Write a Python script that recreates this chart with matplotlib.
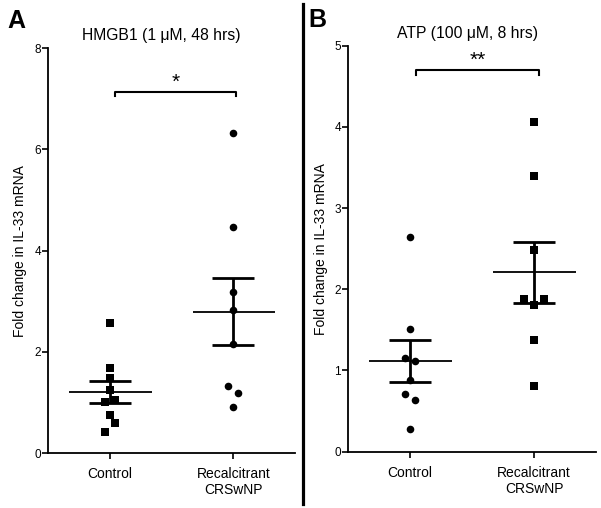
import numpy as np
import matplotlib
matplotlib.use("Agg")
import matplotlib.pyplot as plt
from matplotlib.lines import Line2D

plt.rcParams['font.family'] = ['Liberation Sans', 'DejaVu Sans']

# данные
groups = ["Control", "Recalcitrant\nCRSwNP"]

hmgb1_control = [2.57, 1.69, 1.48, 1.25, 1.05, 1.01, 0.75, 0.60, 0.42]
hmgb1_recalc = [6.32, 4.46, 3.18, 2.82, 2.16, 1.32, 1.18, 0.92]
atp_control = [2.64, 1.51, 1.15, 1.12, 0.88, 0.71, 0.64, 0.28]
atp_recalc = [4.06, 3.39, 2.48, 1.88, 1.88, 1.81, 1.37, 0.81]

# смещения точек по x (разброс), чтобы не перекрывались
hmgb1_control_dx = [0, 0, 0, 0, 0.04, -0.04, 0, 0.04, -0.04]
hmgb1_recalc_dx = [0, 0, 0, 0, 0, -0.04, 0.04, 0]
atp_control_dx = [0, 0, -0.04, 0.04, 0, -0.04, 0.04, 0]
atp_recalc_dx = [0, 0, 0, -0.08, 0.08, 0, 0, 0]


def draw_group(ax, x, values, dx, marker):
    values = np.array(values)
    ax.scatter(x + np.array(dx), values, marker=marker, s=30, color='black',
               zorder=3, linewidths=0)
    m = values.mean()
    sem = values.std(ddof=1) / np.sqrt(len(values))
    ax.hlines(m, x - 0.33, x + 0.34, color='black', lw=1.3, zorder=2)
    ax.vlines(x, m - sem, m + sem, color='black', lw=2.0, zorder=2)
    ax.hlines([m - sem, m + sem], x - 0.17, x + 0.17, color='black', lw=2.0, zorder=2)


def setup(ax, ymax, yticks, title, title_x):
    ax.set_xlim(-0.5, 1.5)
    ax.set_ylim(0, ymax)
    ax.set_xticks([0, 1])
    ax.set_xticklabels(groups, fontsize=10)
    ax.set_yticks(yticks)
    ax.tick_params(axis='y', labelsize=8.5, length=4, width=1.2, pad=1)
    ax.tick_params(axis='x', length=4, width=1.2, pad=6)
    ax.spines['top'].set_visible(False)
    ax.spines['right'].set_visible(False)
    ax.spines['left'].set_linewidth(1.3)
    ax.spines['bottom'].set_linewidth(1.3)
    ax.set_ylabel('Fold change in IL-33 mRNA', fontsize=10)
    ax.text(title_x, 1.012, title, transform=ax.transAxes, ha='center',
            va='bottom', fontsize=11.3)


def bracket(ax, x0, x1, y, dy, label):
    ax.plot([x0, x0, x1, x1], [y - dy, y, y, y - dy], color='black', lw=1.5)
    ax.text((x0 + x1) / 2, y, label, ha='center', va='bottom', fontsize=15)


fig = plt.figure(figsize=(6.01, 5.08), dpi=100)

axA = fig.add_axes([0.0799, 0.108, 0.411, 0.7975])
draw_group(axA, 0, hmgb1_control, hmgb1_control_dx, 's')
draw_group(axA, 1, hmgb1_recalc, hmgb1_recalc_dx, 'o')
setup(axA, 8, [0, 2, 4, 6, 8], 'HMGB1 (1 μM, 48 hrs)', 0.46)
bracket(axA, 0.04, 1.02, 7.14, 0.09, '*')
axA.yaxis.set_label_coords(-0.085, 0.5)

axB = fig.add_axes([0.579, 0.111, 0.413, 0.799])
draw_group(axB, 0, atp_control, atp_control_dx, 'o')
draw_group(axB, 1, atp_recalc, atp_recalc_dx, 's')
setup(axB, 5, [0, 1, 2, 3, 4, 5], 'ATP (100 μM, 8 hrs)', 0.48)
bracket(axB, 0.05, 1.04, 4.70, 0.06, '**')
axB.yaxis.set_label_coords(-0.08, 0.5)

# разделительная линия и буквы панелей
fig.add_artist(Line2D([0.504, 0.504], [1 - 4 / 508, 1 - 504 / 508],
                      color='black', lw=2.3, transform=fig.transFigure))
fig.text(0.012, 1 - 28 / 508, 'A', fontsize=18, fontweight='bold', va='baseline')
fig.text(0.513, 1 - 27 / 508, 'B', fontsize=18, fontweight='bold', va='baseline')

fig.savefig('out.png', dpi=100)
